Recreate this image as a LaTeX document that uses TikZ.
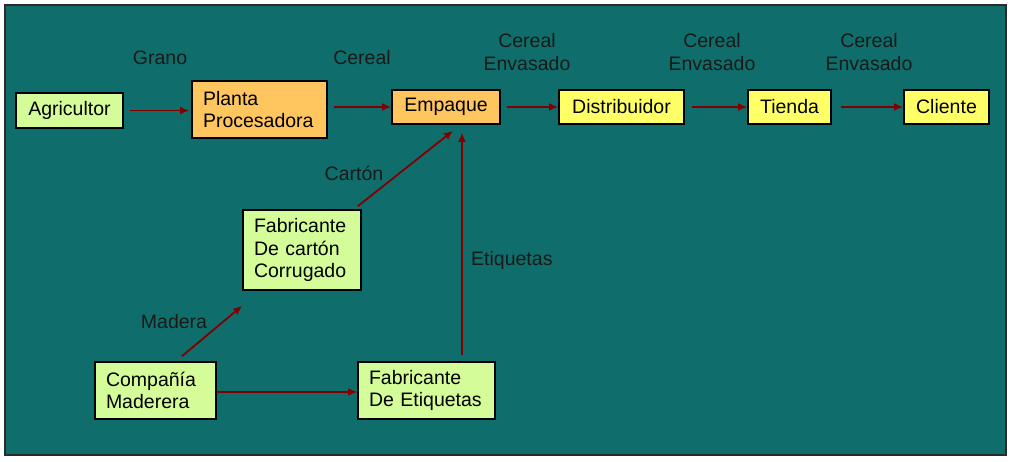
\documentclass[tikz,border=0pt]{standalone}
\usepackage{fontspec}
\setmainfont{Liberation Sans}
\usetikzlibrary{arrows.meta}
\definecolor{bgteal}{HTML}{0F6E6C}
\definecolor{lgreen}{HTML}{D4FC98}
\definecolor{lorange}{HTML}{FFC660}
\definecolor{lyellow}{HTML}{FFFF66}
\definecolor{arrred}{HTML}{800000}
\definecolor{frame}{HTML}{2A2A2A}
\tikzset{
  box/.style={draw=black, line width=1.6pt, inner sep=0pt, font=\fontsize{19.5}{22.5}\selectfont},
  onebox/.style={box, align=center},
  multibox/.style={box, align=left, inner xsep=11pt},
  lbl/.style={font=\fontsize{19.5}{22.5}\selectfont, text=black!90, align=center, inner sep=0pt},
  arr/.style={draw=arrred, line width=1.8pt, -{Latex[length=9pt,width=8pt]}},
}
\begin{document}
\begin{tikzpicture}[x=1pt,y=-1pt]
\useasboundingbox (0,0) rectangle (1011,462);
\fill[white] (0,0) rectangle (1011,462);
\draw[frame, line width=2pt, fill=bgteal] (5,5) rectangle (1006,455);

% top row
\node[onebox, fill=lgreen, minimum width=107pt, minimum height=35pt] (agr) at (69.5,110.5) {Agricultor};
\node[multibox, fill=lorange, text width=113pt, minimum height=57pt] (planta) at (259.5,109.5) {Planta\\Procesadora};
\node[onebox, fill=lorange, minimum width=108pt, minimum height=34pt] (emp) at (446,107) {Empaque};
\node[onebox, fill=lyellow, minimum width=125pt, minimum height=34pt] (dist) at (621.5,107) {Distribuidor};
\node[onebox, fill=lyellow, minimum width=83pt, minimum height=34pt] (tienda) at (789.5,107) {Tienda};
\node[onebox, fill=lyellow, minimum width=85pt, minimum height=34pt] (cliente) at (946.5,107) {Cliente};

% lower nodes
\node[multibox, fill=lgreen, text width=96pt, minimum height=80pt] (fab) at (302,250) {Fabricante\\De cartón\\Corrugado};
\node[multibox, fill=lgreen, text width=99pt, minimum height=57pt] (comp) at (155.5,390.5) {Compañía\\Maderera};
\node[multibox, fill=lgreen, text width=115pt, minimum height=57pt] (etiq) at (426.5,390.5) {Fabricante\\De Etiquetas};

% labels
\node[lbl] (lgrano) at (160,58) {Grano};
\node[lbl] (lcereal) at (362,58) {Cereal};
\node[lbl] (lce1) at (527,52) {Cereal\\Envasado};
\node[lbl] (lce2) at (712,52) {Cereal\\Envasado};
\node[lbl] (lce3) at (869,52) {Cereal\\Envasado};
\node[lbl] (lcarton) at (354,173) {Cartón};
\node[lbl] (lmadera) at (174,322) {Madera};
\node[lbl, anchor=west] (letiq) at (471,260) {Etiquetas};

% arrows
\draw[arr, shorten <=6pt, shorten >=2pt] (agr.east) -- (agr.east -| planta.west);
\draw[arr, shorten <=6pt] (planta.east |- emp.east) -- (emp.west);
\draw[arr, shorten <=6pt] (emp.east) -- (dist.west);
\draw[arr, shorten <=7pt] (dist.east) -- (tienda.west);
\draw[arr, shorten <=9pt] (tienda.east) -- (cliente.west);
\draw[arr] (comp.east |- 0,392) -- (etiq.west |- 0,392);
\draw[arr] ([xshift=26.5pt,yshift=5pt]comp.north) -- ([yshift=-15pt]fab.south west);
\draw[arr] ([xshift=-4pt,yshift=3pt]fab.north east) -- ([xshift=7pt,yshift=-6pt]emp.south);
\draw[arr] ([xshift=35.5pt,yshift=6pt]etiq.north) -- ([xshift=16pt,yshift=-8pt]emp.south);
\end{tikzpicture}
\end{document}
